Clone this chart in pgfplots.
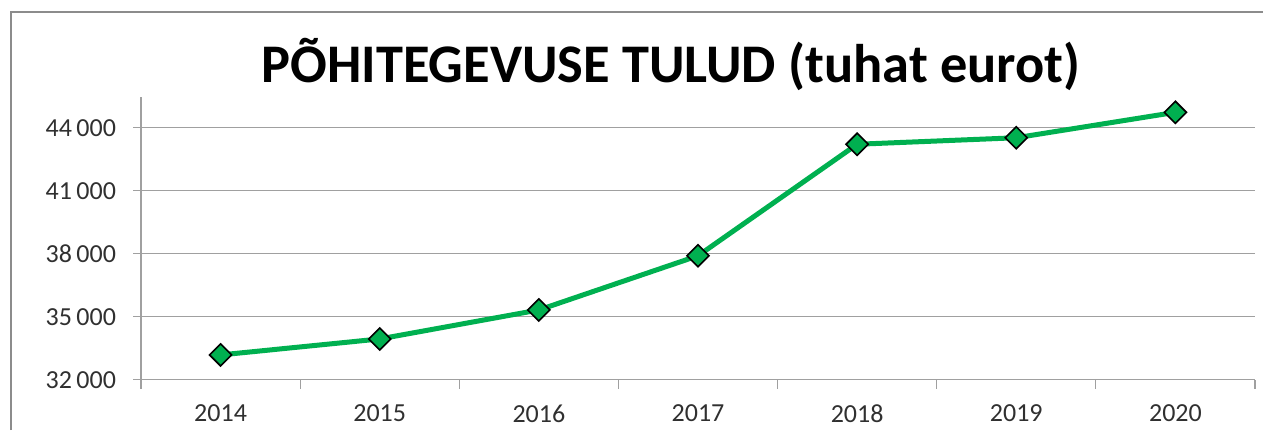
\documentclass[border=0pt]{standalone}
\usepackage{pgfplots}
\pgfplotsset{compat=1.18}
\usepackage{fontspec}
\setmainfont{Carlito}
\definecolor{lgreen}{HTML}{00B050}
\definecolor{gridc}{HTML}{A0A0A0}
\definecolor{txt}{HTML}{303030}
\begin{document}
\begin{tikzpicture}
\useasboundingbox (0,0) rectangle (631.5pt,215pt);
\draw[color=gray!90, line width=1pt] (5.5pt,0pt) |- (631.5pt,209pt);
\node[anchor=base, font=\fontsize{27.2}{32}\selectfont\bfseries, text=black, inner sep=0pt] at (335.5pt,174pt) {PÕHITEGEVUSE TULUD (tuhat eurot)};
\begin{axis}[
  at={(70.5pt,25.15pt)}, anchor=south west,
  scale only axis, width=557pt, height=141.35pt,
  xmin=-0.5, xmax=6.5, ymin=32000, ymax=45460,
  axis x line*=bottom, axis y line*=left,
  axis line style={gridc, line width=0.6pt},
  xtick={0,...,6},
  xticklabels={2014,2015,2016,2017,2018,2019,2020},
  minor xtick={-0.5,0.5,...,6.5},
  every major x tick/.style={draw=none},
  minor tick length=4.5pt,
  ytick={32000,35000,...,44000},
  major tick length=4pt,
  tick align=outside,
  tick style={gridc, line width=0.6pt},
  ymajorgrids,
  major grid style={gridc, line width=0.6pt},
  /pgf/number format/assume math mode=true,
  /pgf/number format/1000 sep={\,},
  scaled y ticks=false,
  ticklabel style={font=\fontsize{13}{15}\selectfont, text=txt},
  yticklabel style={xshift=-5pt},
  xticklabel style={yshift=-5pt},
  clip=false,
]
\addplot[color=lgreen, line width=2.5pt, mark=square*, mark size=3.9pt,
  mark options={fill=lgreen, draw=black, line width=0.8pt, rotate=45}]
  coordinates {(0,33180) (1,33940) (2,35320) (3,37900) (4,43210) (5,43520) (6,44730)};
\end{axis}
\end{tikzpicture}
\end{document}
